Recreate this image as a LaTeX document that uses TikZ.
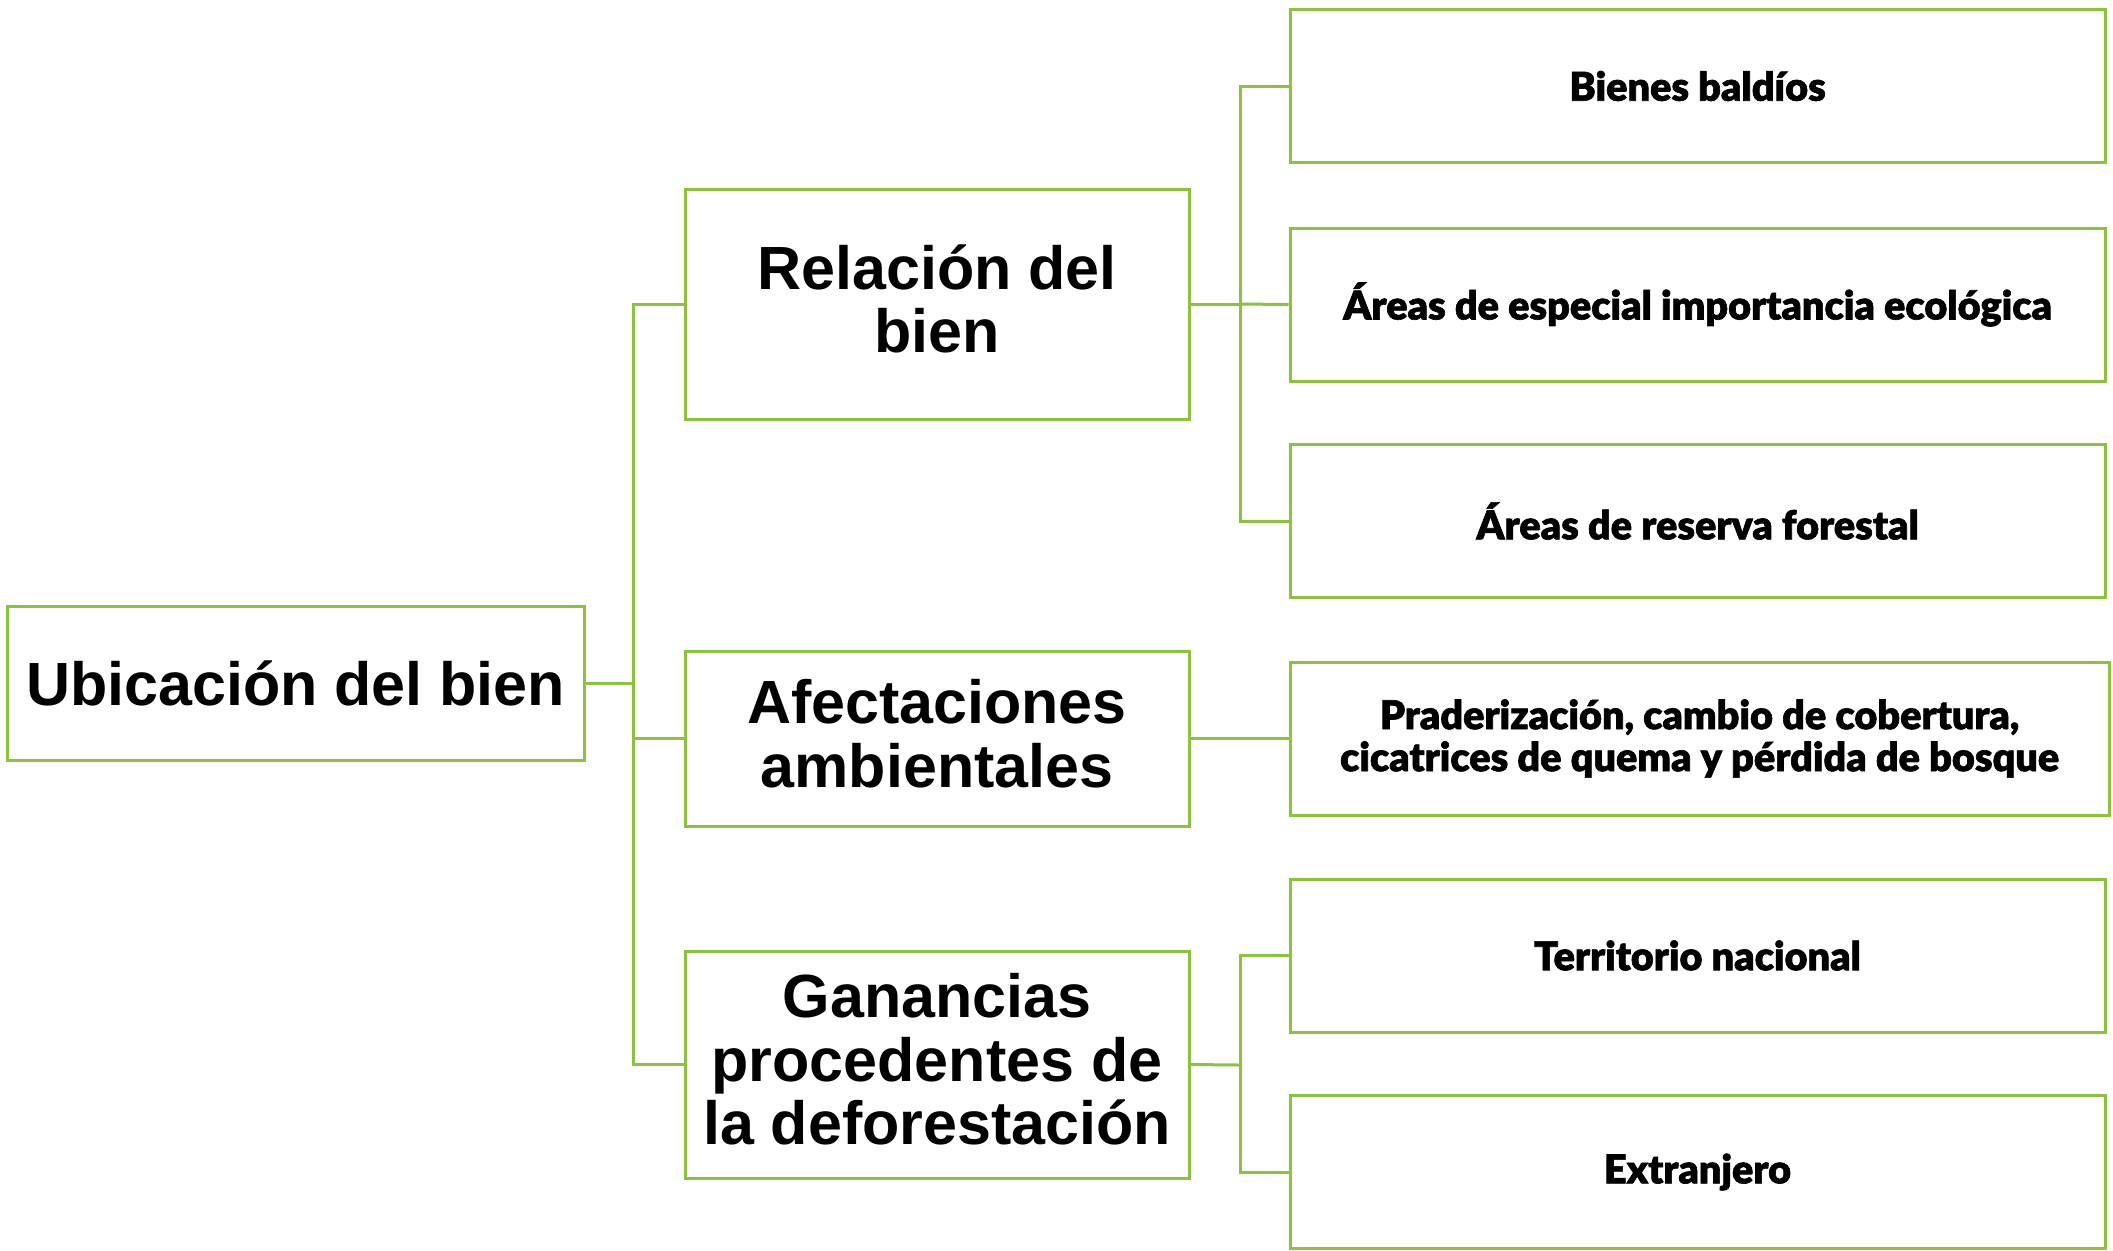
\documentclass[tikz,border=0pt]{standalone}
\usepackage{fontspec}
\setmainfont{Liberation Sans}
\newfontfamily\heavyfont[FakeBold=1.6]{Lato Black}
\definecolor{lgreen}{RGB}{140,194,60}
\newcommand{\liftxt}[1]{\raisebox{-2pt}[\height][\depth]{\begin{tabular}{@{}c@{}}#1\end{tabular}}}
\begin{document}
\begin{tikzpicture}[x=0.5pt,y=-0.5pt,
  box/.style={draw=lgreen,line width=1.5pt,fill=white,align=center,inner sep=0pt},
  bigbox/.style={box,font=\fontsize{30.5}{31.8}\selectfont\bfseries},
  smallbox/.style={box,font=\fontsize{19.8}{21}\selectfont\heavyfont,minimum width=407.5pt,minimum height=76.5pt},
  conn/.style={draw=lgreen,line width=1.5pt}]
\fill[white] (0,0) rectangle (2113,1250);
\useasboundingbox (0,0) rectangle (2113,1250);
\node[bigbox,minimum width=288.5pt,minimum height=77pt] (ub) at (295.5,683) {Ubicación del bien};
\node[bigbox,minimum width=252pt,minimum height=115pt] (rel) at (937,304) {\liftxt{Relación del\\bien}};
\node[bigbox,minimum width=252pt,minimum height=87.5pt] (afe) at (937,738.5) {\liftxt{Afectaciones\\ambientales}};
\node[bigbox,minimum width=252pt,minimum height=113.5pt] (gan) at (937,1064.5) {\liftxt{Ganancias\\procedentes de\\la deforestación}};
\node[smallbox] (bie) at (1697.5,86) {Bienes baldíos};
\node[smallbox] (esp) at (1697.5,304.5) {Áreas de especial importancia ecológica};
\node[smallbox] (res) at (1697.5,521) {Áreas de reserva forestal};
\node[smallbox,minimum width=409.5pt] (pra) at (1699.5,738.5) {Praderización, cambio de cobertura,\\cicatrices de quema y pérdida de bosque};
\node[smallbox] (ter) at (1697.5,955.5) {Territorio nacional};
\node[smallbox] (ext) at (1697.5,1172) {Extranjero};
\coordinate (t1) at (633,683);
\coordinate (t2) at (1240,304);
\coordinate (t3) at (1240,1065);
\draw[conn] (ub.east) -- (t1);
\draw[conn] (rel.west) -| (t1) |- (gan.west);
\draw[conn] (afe.west) -- (afe.west -| t1);
\draw[conn] (rel.east) -- (t2);
\draw[conn] (bie.west) -| (t2) |- (res.west);
\draw[conn] (t2) -- (esp.west);
\draw[conn] (afe.east) -- (pra.west);
\draw[conn] (gan.east) -- (t3);
\draw[conn] (ter.west) -| (t3) |- (ext.west);
\end{tikzpicture}
\end{document}
